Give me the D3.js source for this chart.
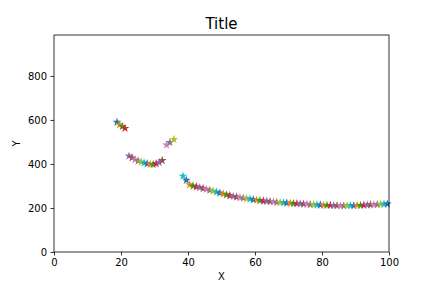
<!DOCTYPE html>
<html>
<head>
<meta charset="utf-8">
<script src="https://cdn.jsdelivr.net/npm/d3@7"></script>
<style>
  body { margin: 0; background: #fff; }
  text { font-family: "DejaVu Sans", sans-serif; }
</style>
</head>
<body>
<div id="chart"></div>
<script>
// values, one segment after another
const xs = [
  18.8, 19.6, 20.4, 21.2,
  22.4, 23.3, 24.2, 25.1, 26.0, 26.9, 27.8, 28.7, 29.6, 30.5, 31.4, 32.3,
  33.6, 34.6, 35.8,
  38.5, 39.5, 40.5, 41.5, 42.5, 43.5, 44.5, 45.5, 46.5, 47.5, 48.5, 49.5,
  50.5, 51.5, 52.5, 53.5, 54.5, 55.5, 56.5, 57.5, 58.5, 59.5, 60.5, 61.5,
  62.5, 63.5, 64.5, 65.5, 66.5, 67.5, 68.5, 69.5, 70.5, 71.5, 72.5, 73.5,
  74.5, 75.5, 76.5, 77.5, 78.5, 79.5, 80.5, 81.5, 82.5, 83.5, 84.5, 85.5,
  86.5, 87.5, 88.5, 89.5, 90.5, 91.5, 92.5, 93.5, 94.5, 95.5, 96.5, 97.5,
  98.5, 99.5
]
const ys = [
  590, 578, 570, 562,
  436, 428, 420, 414, 409, 405, 401, 399, 398, 401, 407, 416,
  486, 498, 512,
  345, 326, 306, 300, 297, 293, 289, 285, 281, 277, 273, 268,
  264, 260, 256, 253, 250, 247, 245, 243, 241, 238, 236, 234,
  232, 231, 229, 228, 226, 225, 224, 223, 222, 221, 220, 219,
  218, 217, 216, 215, 214, 214, 213, 212, 212, 211, 211, 210,
  210, 210, 211, 211, 212, 212, 213, 214, 215, 215, 216, 217,
  217, 218
]
const xTicks = [0, 20, 40, 60, 80, 100]
const yTicks = [0, 200, 400, 600, 800]

const width = 432, height = 288
const margin = {top: 35, right: 43, bottom: 36, left: 54}

const svg = d3.select('#chart').append('svg')
  .attr('width', width)
  .attr('height', height)

const x = d3.scaleLinear()
  .domain([0, 100])
  .range([margin.left, width - margin.right])
const y = d3.scaleLinear()
  .domain([0, 986])
  .range([height - margin.bottom, margin.top])

const color = d3.scaleOrdinal(d3.schemeCategory10)

svg.append('g')
  .selectAll('path')
  .data(xs.map((v, i) => ({x: v, y: ys[i], i})))
  .join('path')
    .attr('transform', d => `translate(${x(d.x)},${y(d.y)})`)
    .attr('d', d3.symbol(d3.symbolStar, 24))
    .attr('fill', d => color(d.i % 10))

const xAxis = svg.append('g')
  .attr('transform', `translate(0,${height - margin.bottom})`)
  .call(d3.axisBottom(x).tickValues(xTicks).tickSize(3.5).tickPadding(3.5))
const yAxis = svg.append('g')
  .attr('transform', `translate(${margin.left},0)`)
  .call(d3.axisLeft(y).tickValues(yTicks).tickSize(3.5).tickPadding(3.5))

;[xAxis, yAxis].forEach(a => {
  a.select('.domain').remove()
  a.selectAll('text').style('font-size', '10px').attr('fill', '#000')
  a.selectAll('line').attr('stroke', '#000').attr('stroke-width', 0.8)
})

svg.append('rect')
  .attr('x', margin.left)
  .attr('y', margin.top)
  .attr('width', width - margin.left - margin.right)
  .attr('height', height - margin.top - margin.bottom)
  .attr('fill', 'none')
  .attr('stroke', '#000')
  .attr('stroke-width', 0.8)

svg.append('text')
  .attr('x', (margin.left + width - margin.right) / 2)
  .attr('y', 29)
  .attr('text-anchor', 'middle')
  .style('font-size', '15px')
  .text('Title')

svg.append('text')
  .attr('x', (margin.left + width - margin.right) / 2)
  .attr('y', 280)
  .attr('text-anchor', 'middle')
  .style('font-size', '10px')
  .text('X')

svg.append('text')
  .attr('transform', `translate(20,${(margin.top + height - margin.bottom) / 2}) rotate(-90)`)
  .attr('text-anchor', 'middle')
  .style('font-size', '10px')
  .text('Y')
</script>
</body>
</html>
